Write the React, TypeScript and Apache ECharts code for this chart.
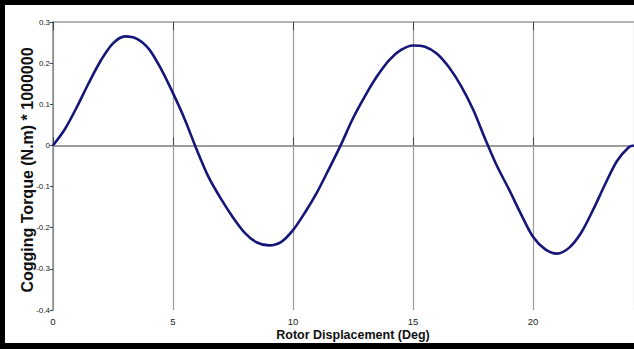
import React, { useEffect, useRef } from "react";
import * as echarts from "echarts";

const displacement = [0, 0.5, 1, 1.5, 2, 2.5, 3, 3.5, 4, 4.5, 5, 5.5, 6, 6.5, 7, 7.5, 8, 8.5, 9, 9.5, 10, 10.5, 11, 11.5, 12, 12.5, 13, 13.5, 14, 14.5, 15, 15.5, 16, 16.5, 17, 17.5, 18, 18.5, 19, 19.5, 20, 20.5, 21, 21.5, 22, 22.5, 23, 23.5, 24, 24.2];
const torque = [0, 0.04, 0.094, 0.153, 0.207, 0.248, 0.265, 0.259, 0.234, 0.186, 0.127, 0.062, -0.012, -0.079, -0.13, -0.175, -0.213, -0.236, -0.243, -0.235, -0.206, -0.163, -0.114, -0.057, 0.002, 0.066, 0.12, 0.168, 0.207, 0.232, 0.243, 0.24, 0.223, 0.19, 0.145, 0.088, 0.017, -0.05, -0.107, -0.167, -0.222, -0.252, -0.263, -0.249, -0.213, -0.157, -0.095, -0.038, -0.004, 0];
const xTicks = [0, 5, 10, 15, 20];
const yTicks = [-0.4, -0.3, -0.2, -0.1, 0, 0.1, 0.2, 0.3];
const xTitle = "Rotor Displacement (Deg)";
const yTitle = "Cogging Torque (N.m) * 1000000";

const sans = "'Liberation Sans', Arial, sans-serif";

export default function App() {
  const ref = useRef<HTMLDivElement>(null);
  useEffect(() => {
    if (!ref.current) return;
    const chart = echarts.init(ref.current, undefined, { renderer: "svg" });
    const xMax = 581 / 24;
    chart.setOption({
      animation: false,
      backgroundColor: "#fff",
      grid: { left: 53, right: 0, top: 22, bottom: 39 },
      xAxis: [
        {
          type: "value",
          min: 0,
          max: xMax,
          interval: 5,
          position: "bottom",
          axisLine: { show: true, lineStyle: { color: "#8a8a8a", width: 1.5 } },
          axisTick: { show: true, inside: true, length: 8, lineStyle: { color: "#444", width: 1 } },
          axisLabel: {
            show: true,
            margin: 6,
            fontSize: 9.5,
            fontFamily: sans,
            color: "#222",
            showMaxLabel: false,
            formatter: (v: number) => (xTicks.includes(Math.round(v)) ? String(Math.round(v)) : ""),
          },
          splitLine: { show: true, lineStyle: { color: "#9a9a9a", width: 1.2 } },
        },
        {
          type: "value",
          min: 0,
          max: xMax,
          interval: 5,
          position: "top",
          axisLine: { show: true, lineStyle: { color: "#9a9a9a", width: 1.5 } },
          axisTick: { show: true, inside: true, length: 8, lineStyle: { color: "#444", width: 1 } },
          axisLabel: { show: false },
          splitLine: { show: false },
        },
      ],
      yAxis: {
        type: "value",
        min: yTicks[0],
        max: yTicks[yTicks.length - 1],
        interval: 0.1,
        axisLine: { show: true, lineStyle: { color: "#8a8a8a", width: 1.5 } },
        axisTick: { show: true, inside: false, length: 3, lineStyle: { color: "#444", width: 1 } },
        axisLabel: {
          margin: 3,
          fontSize: 8,
          fontFamily: sans,
          color: "#222",
          formatter: (v: number) => String(Math.round(v * 10) / 10),
        },
        splitLine: { show: false },
      },
      series: [
        {
          type: "line",
          xAxisIndex: 0,
          data: displacement.map((d, i) => [d, torque[i]]),
          smooth: 0.3,
          showSymbol: false,
          symbol: "none",
          lineStyle: { color: "#16167a", width: 2.6 },
          z: 5,
          markLine: {
            silent: true,
            symbol: "none",
            label: { show: false },
            lineStyle: { color: "#9a9a9a", type: "solid", width: 1.5 },
            data: [{ yAxis: 0 }],
            z: 1,
          },
        },
      ],
      graphic: [
        {
          type: "text",
          x: 353,
          y: 335,
          style: {
            text: xTitle,
            fontSize: 12.5,
            fontWeight: "bold",
            fontFamily: sans,
            fill: "#111",
            textAlign: "center",
            textVerticalAlign: "middle",
          },
        },
        {
          type: "text",
          x: 27,
          y: 170,
          rotation: Math.PI / 2,
          style: {
            text: yTitle,
            fontSize: 16,
            fontWeight: "bold",
            fontFamily: sans,
            fill: "#111",
            textAlign: "center",
            textVerticalAlign: "middle",
          },
        },
        { type: "rect", shape: { x: 0, y: 0, width: 634, height: 5 }, style: { fill: "#000" }, z: 100 },
        { type: "rect", shape: { x: 0, y: 0, width: 5, height: 349 }, style: { fill: "#000" }, z: 100 },
        { type: "rect", shape: { x: 0, y: 343, width: 634, height: 6 }, style: { fill: "#000" }, z: 100 },
      ],
    });
    return () => chart.dispose();
  }, []);
  return (
    <div
      ref={ref}
      style={{ position: "fixed", left: 0, top: 0, width: 634, height: 349, background: "#fff" }}
    />
  );
}
